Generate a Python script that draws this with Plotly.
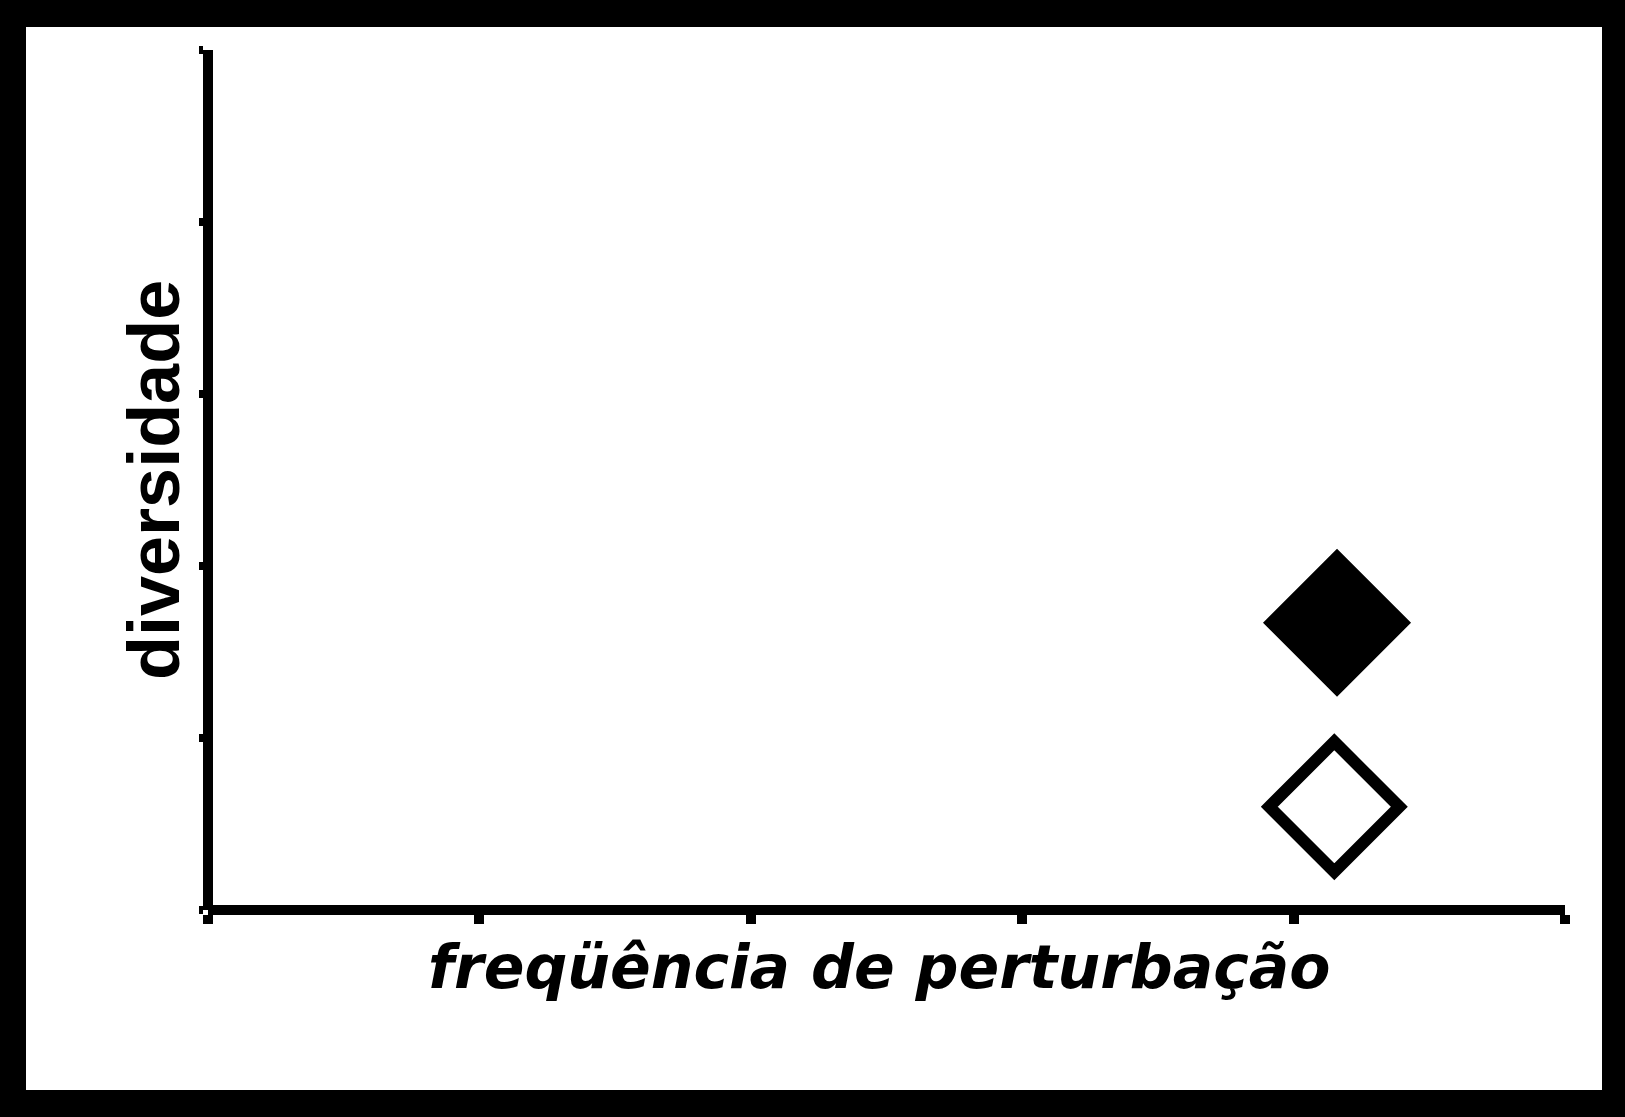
import plotly.graph_objects as go

# dados (unidades arbitrárias, eixos sem rótulos)
x_ticks = [0, 1, 2, 3, 4, 5]
y_ticks = [0, 1, 2, 3, 4, 5]

x_cheio = [4.16]
y_cheio = [1.67]

x_vazio = [4.15]
y_vazio = [0.60]

W, H = 1625, 1117
M_L, M_R, M_T, M_B = 208, 60, 50, 207
PW = W - M_L - M_R
PH = H - M_T - M_B


def px_x(p):
    return (p - M_L) / PW


def px_y(p):
    return (H - M_B - p) / PH


fig = go.Figure()

fig.add_trace(go.Scatter(
    x=x_cheio, y=y_cheio, mode="markers",
    marker=dict(symbol="diamond", size=103, color="black",
                line=dict(color="black", width=10)),
    showlegend=False, hoverinfo="skip",
))

fig.add_trace(go.Scatter(
    x=x_vazio, y=y_vazio, mode="markers",
    marker=dict(symbol="diamond", size=100, color="white",
                line=dict(color="black", width=12)),
    showlegend=False, hoverinfo="skip",
))

# moldura preta com área branca
fig.add_shape(
    type="rect", xref="paper", yref="paper", layer="below",
    x0=px_x(26), x1=px_x(1602), y0=px_y(1090), y1=px_y(27),
    fillcolor="white", line=dict(width=0),
)

# títulos dos eixos
fig.add_annotation(
    text="<b><i>freqüência de perturbação</i></b>",
    xref="paper", yref="paper", x=px_x(879), y=px_y(967),
    xanchor="center", yanchor="middle", showarrow=False,
    font=dict(family="DejaVu Sans", size=60, color="black"),
)
fig.add_annotation(
    text="<b>diversidade</b>",
    xref="paper", yref="paper", x=px_x(154), y=0.5,
    xanchor="center", yanchor="middle", showarrow=False, textangle=-90,
    font=dict(family="Liberation Sans", size=72, color="black"),
)

fig.update_layout(
    width=W, height=H,
    margin=dict(l=M_L, r=M_R, t=M_T, b=M_B),
    paper_bgcolor="black",
    plot_bgcolor="white",
    showlegend=False,
)

# eixos "free" na posição 0: a linha fica centrada na borda da área
fig.update_xaxes(
    range=[0, 5], tickvals=x_ticks, showticklabels=False,
    showgrid=False, zeroline=False,
    anchor="free", position=0,
    showline=True, linecolor="black", linewidth=10,
    ticks="outside", ticklen=9, tickwidth=10, tickcolor="black",
)

fig.update_yaxes(
    range=[0, 5], tickvals=y_ticks, showticklabels=False,
    showgrid=False, zeroline=False,
    anchor="free", position=0,
    showline=True, linecolor="black", linewidth=10,
    ticks="outside", ticklen=4, tickwidth=8, tickcolor="black",
)

# sem margem da página, para a moldura encostar nas bordas
fig.write_html(
    "out.html",
    config={"displayModeBar": False},
    post_script="document.body.style.margin='0';",
)
